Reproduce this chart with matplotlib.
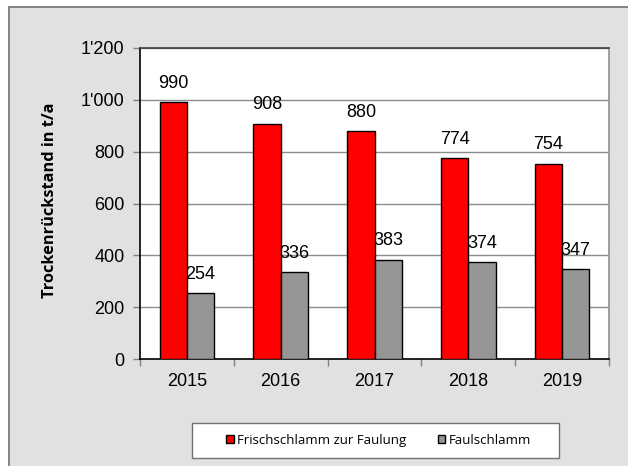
import matplotlib
matplotlib.use("Agg")
import matplotlib.pyplot as plt
import numpy as np
from matplotlib.patches import Rectangle
from matplotlib.ticker import FuncFormatter, FixedLocator

years = ["2015", "2016", "2017", "2018", "2019"]
frisch = [990, 908, 880, 774, 754]
faul = [254, 336, 383, 374, 347]
series_names = ["Frischschlamm zur Faulung", "Faulschlamm"]
ylabel = "Trockenrückstand in t/a"

W, H = 628, 466
fig = plt.figure(figsize=(W / 100, H / 100), dpi=100)
fig.patch.set_facecolor("white")

# outer chart frame
frame = Rectangle((9 / W, -0.01), (W - 9) / W + 0.01, (H - 7) / H + 0.01, transform=fig.transFigure,
                  facecolor="#e1e1e1", edgecolor="#707070", linewidth=1.2, zorder=-5)
fig.patches.append(frame)
# legend box
lbox = Rectangle((192 / W, 1 - 458 / H), (559 - 192) / W, (458 - 423) / H, transform=fig.transFigure,
                 facecolor="white", edgecolor="#707070", linewidth=1.0, zorder=-4)
fig.patches.append(lbox)

ax = fig.add_axes([140 / W, 1 - 359 / H, (609 - 140) / W, (359 - 48) / H])
ax.set_zorder(2)
ax.set_facecolor("white")

x = np.arange(len(years))
bw = 0.29
b1 = ax.bar(x - bw / 2, frisch, bw, color="#ff0000", edgecolor="black", linewidth=1.0, zorder=3,
            label=series_names[0])
b2 = ax.bar(x + bw / 2, faul, bw, color="#969696", edgecolor="black", linewidth=1.0, zorder=3,
            label=series_names[1])

for bars, vals in ((b1, frisch), (b2, faul)):
    for r, v in zip(bars, vals):
        ax.annotate(f"{v}", (r.get_x() + r.get_width() / 2, v), xytext=(0, 13.5),
                    textcoords="offset points", ha="center", va="center",
                    fontsize=13, family="Liberation Sans", zorder=5)

ax.set_xlim(-0.5, len(years) - 0.5)
ax.set_ylim(0, 1200)
ax.set_yticks(range(0, 1201, 200))
ax.yaxis.set_major_formatter(FuncFormatter(lambda v, p: f"{int(v):,}".replace(",", "'")))
ax.grid(axis="y", color="#8c8c8c", linewidth=1.0, zorder=1)
ax.set_axisbelow(True)

ax.set_xticks(x)
ax.set_xticklabels(years)
ax.xaxis.set_minor_locator(FixedLocator(np.arange(-0.5, len(years), 1.0)))
ax.tick_params(axis="x", which="major", length=0, pad=10, labelsize=13)
ax.tick_params(axis="x", which="minor", length=5, width=1, color="#808080")
ax.tick_params(axis="y", length=5, width=1, color="#808080", pad=6, labelsize=13)
for lab in ax.get_xticklabels() + ax.get_yticklabels():
    lab.set_family("Liberation Sans")

ax.spines["left"].set_color("black")
ax.spines["bottom"].set_color("black")
ax.spines["top"].set_color("#404040")
ax.spines["right"].set_color("#909090")
for s in ax.spines.values():
    s.set_linewidth(1.2)

fig.text(50 / W, 1 - 200 / H, ylabel, rotation=90, ha="center", va="center",
         fontsize=11.8, fontweight="bold", family="Open Sans")

leg = fig.legend(handles=[b1, b2], labels=series_names, loc="center",
                 bbox_to_anchor=(378.5 / W, 1 - 440.5 / H), ncol=2,
                 frameon=False,
                 prop={"family": "Open Sans", "size": 9.5},
                 handlelength=0.55, handleheight=0.55, handletextpad=0.25, columnspacing=2.4,
                 borderpad=0.3)

fig.savefig("out.png", dpi=100, facecolor=fig.get_facecolor())
